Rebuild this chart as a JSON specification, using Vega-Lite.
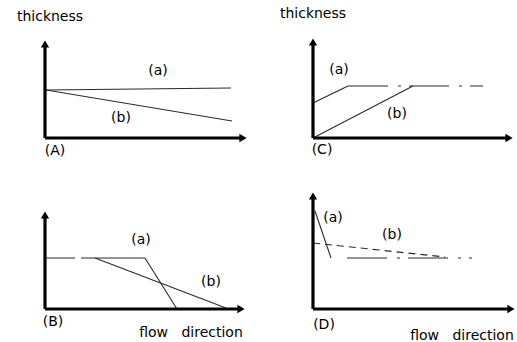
{
  "$schema": "https://vega.github.io/schema/vega-lite/v6.json",
  "padding": 0,
  "background": "white",
  "bounds": "flush",
  "columns": 2,
  "spacing": {"row": 0, "column": 19},
  "data": {
    "values": [
      {"kind": "axis", "panel": "A", "dir": "up", "x": 0, "y": 0, "x2": 0, "y2": 94},
      {"kind": "axis", "panel": "A", "dir": "right", "x": 0, "y": 0, "x2": 198, "y2": 0},
      {"kind": "axis", "panel": "C", "dir": "up", "x": 0, "y": 0, "x2": 0, "y2": 96},
      {"kind": "axis", "panel": "C", "dir": "right", "x": 0, "y": 0, "x2": 196, "y2": 0},
      {"kind": "axis", "panel": "B", "dir": "up", "x": 0, "y": 0, "x2": 0, "y2": 94},
      {"kind": "axis", "panel": "B", "dir": "right", "x": 0, "y": 0, "x2": 196, "y2": 0},
      {"kind": "axis", "panel": "D", "dir": "up", "x": 0, "y": 0, "x2": 0, "y2": 113},
      {"kind": "axis", "panel": "D", "dir": "right", "x": 0, "y": 0, "x2": 198, "y2": 0},

      {"kind": "curve", "panel": "A", "seg": "A-a", "x": 1, "y": 48},
      {"kind": "curve", "panel": "A", "seg": "A-a", "x": 186, "y": 50},
      {"kind": "curve", "panel": "A", "seg": "A-b", "x": 1, "y": 48},
      {"kind": "curve", "panel": "A", "seg": "A-b", "x": 187, "y": 17},

      {"kind": "curve", "panel": "C", "seg": "C-a1", "x": 0, "y": 35},
      {"kind": "curve", "panel": "C", "seg": "C-a1", "x": 35, "y": 52},
      {"kind": "curve", "panel": "C", "seg": "C-a2", "x": 35, "y": 52},
      {"kind": "curve", "panel": "C", "seg": "C-a2", "x": 170, "y": 52},
      {"kind": "curve", "panel": "C", "seg": "C-b", "x": 0, "y": 0},
      {"kind": "curve", "panel": "C", "seg": "C-b", "x": 100, "y": 52},

      {"kind": "curve", "panel": "B", "seg": "B-a1", "x": 0, "y": 51},
      {"kind": "curve", "panel": "B", "seg": "B-a1", "x": 100, "y": 51},
      {"kind": "curve", "panel": "B", "seg": "B-a2", "x": 100, "y": 51},
      {"kind": "curve", "panel": "B", "seg": "B-a2", "x": 132, "y": 0},
      {"kind": "curve", "panel": "B", "seg": "B-b", "x": 50, "y": 51},
      {"kind": "curve", "panel": "B", "seg": "B-b", "x": 181, "y": 1},

      {"kind": "curve", "panel": "D", "seg": "D-a1", "x": 2, "y": 98},
      {"kind": "curve", "panel": "D", "seg": "D-a1", "x": 18, "y": 51},
      {"kind": "curve", "panel": "D", "seg": "D-a2", "x": 34, "y": 51},
      {"kind": "curve", "panel": "D", "seg": "D-a2", "x": 159, "y": 51},
      {"kind": "curve", "panel": "D", "seg": "D-b", "x": 0, "y": 66},
      {"kind": "curve", "panel": "D", "seg": "D-b", "x": 132, "y": 52},

      {"kind": "label", "panel": "A", "text": "thickness", "x": 5, "y": 121},
      {"kind": "label", "panel": "A", "text": "(a)", "x": 113, "y": 67},
      {"kind": "label", "panel": "A", "text": "(b)", "x": 76, "y": 20},
      {"kind": "label", "panel": "A", "text": "(A)", "x": 10, "y": -13},

      {"kind": "label", "panel": "C", "text": "thickness", "x": 0, "y": 124},
      {"kind": "label", "panel": "C", "text": "(a)", "x": 26, "y": 68},
      {"kind": "label", "panel": "C", "text": "(b)", "x": 84, "y": 24},
      {"kind": "label", "panel": "C", "text": "(C)", "x": 9, "y": -12},

      {"kind": "label", "panel": "B", "text": "(a)", "x": 96, "y": 69},
      {"kind": "label", "panel": "B", "text": "(b)", "x": 166, "y": 27},
      {"kind": "label", "panel": "B", "text": "(B)", "x": 8, "y": -13},
      {"kind": "label", "panel": "B", "text": "flow\u00a0\u00a0\u00a0direction", "x": 146, "y": -24},

      {"kind": "label", "panel": "D", "text": "(a)", "x": 20, "y": 91},
      {"kind": "label", "panel": "D", "text": "(b)", "x": 79, "y": 74},
      {"kind": "label", "panel": "D", "text": "(D)", "x": 11, "y": -16},
      {"kind": "label", "panel": "D", "text": "flow\u00a0\u00a0\u00a0direction", "x": 149, "y": -27}
    ]
  },
  "concat": [
    {
      "transform": [{"filter": {"field": "panel", "equal": "A"}}],
      "width": 249, "height": 171,
      "encoding": {
        "x": {"field": "x", "type": "quantitative", "scale": {"domain": [-45, 204], "nice": false, "zero": false}, "axis": null},
        "y": {"field": "y", "type": "quantitative", "scale": {"domain": [-33, 138], "nice": false, "zero": false}, "axis": null}
      },
      "layer": [
        {"transform": [{"filter": "datum.kind === 'curve' && indexof(['C-a2','B-a1','D-a2','D-b'], datum.seg) < 0"}],
         "mark": {"type": "line", "color": "#2a2a2a", "strokeWidth": 1.1}, "encoding": {"detail": {"field": "seg"}}},
        {"transform": [{"filter": {"field": "seg", "oneOf": ["C-a2", "B-a1", "D-a2"]}}],
         "mark": {"type": "line", "color": "#2a2a2a", "strokeWidth": 1.1, "strokeDash": [40, 10, 3, 8]}, "encoding": {"detail": {"field": "seg"}}},
        {"transform": [{"filter": {"field": "seg", "equal": "D-b"}}],
         "mark": {"type": "line", "color": "#2a2a2a", "strokeWidth": 1.1, "strokeDash": [7, 5]}, "encoding": {"detail": {"field": "seg"}}},
        {"transform": [{"filter": "datum.kind === 'axis'"}],
         "mark": {"type": "rule", "color": "black", "strokeWidth": 3.2},
         "encoding": {"x2": {"field": "x2"}, "y2": {"field": "y2"}}},
        {"transform": [{"filter": "datum.kind === 'axis'"}],
         "mark": {"type": "point", "filled": true, "color": "black", "opacity": 1, "size": 70},
         "encoding": {"x": {"field": "x2", "type": "quantitative"}, "y": {"field": "y2", "type": "quantitative"},
           "shape": {"field": "dir", "type": "nominal", "scale": {"domain": ["up", "right"], "range": ["triangle-up", "triangle-right"]}, "legend": null}}},
        {"transform": [{"filter": "datum.kind === 'label'"}],
         "mark": {"type": "text", "font": "DejaVu Sans", "fontSize": 14, "color": "black", "align": "center", "baseline": "middle"},
         "encoding": {"text": {"field": "text"}}}
      ]
    },
    {
      "transform": [{"filter": {"field": "panel", "equal": "C"}}],
      "width": 249, "height": 171,
      "encoding": {
        "x": {"field": "x", "type": "quantitative", "scale": {"domain": [-45, 204], "nice": false, "zero": false}, "axis": null},
        "y": {"field": "y", "type": "quantitative", "scale": {"domain": [-33, 138], "nice": false, "zero": false}, "axis": null}
      },
      "layer": [
        {"transform": [{"filter": "datum.kind === 'curve' && indexof(['C-a2','B-a1','D-a2','D-b'], datum.seg) < 0"}],
         "mark": {"type": "line", "color": "#2a2a2a", "strokeWidth": 1.1}, "encoding": {"detail": {"field": "seg"}}},
        {"transform": [{"filter": {"field": "seg", "oneOf": ["C-a2", "B-a1", "D-a2"]}}],
         "mark": {"type": "line", "color": "#2a2a2a", "strokeWidth": 1.1, "strokeDash": [40, 10, 3, 8]}, "encoding": {"detail": {"field": "seg"}}},
        {"transform": [{"filter": {"field": "seg", "equal": "D-b"}}],
         "mark": {"type": "line", "color": "#2a2a2a", "strokeWidth": 1.1, "strokeDash": [7, 5]}, "encoding": {"detail": {"field": "seg"}}},
        {"transform": [{"filter": "datum.kind === 'axis'"}],
         "mark": {"type": "rule", "color": "black", "strokeWidth": 3.2},
         "encoding": {"x2": {"field": "x2"}, "y2": {"field": "y2"}}},
        {"transform": [{"filter": "datum.kind === 'axis'"}],
         "mark": {"type": "point", "filled": true, "color": "black", "opacity": 1, "size": 70},
         "encoding": {"x": {"field": "x2", "type": "quantitative"}, "y": {"field": "y2", "type": "quantitative"},
           "shape": {"field": "dir", "type": "nominal", "scale": {"domain": ["up", "right"], "range": ["triangle-up", "triangle-right"]}, "legend": null}}},
        {"transform": [{"filter": "datum.kind === 'label'"}],
         "mark": {"type": "text", "font": "DejaVu Sans", "fontSize": 14, "color": "black", "align": "center", "baseline": "middle"},
         "encoding": {"text": {"field": "text"}}}
      ]
    },
    {
      "transform": [{"filter": {"field": "panel", "equal": "B"}}],
      "width": 249, "height": 171,
      "encoding": {
        "x": {"field": "x", "type": "quantitative", "scale": {"domain": [-45, 204], "nice": false, "zero": false}, "axis": null},
        "y": {"field": "y", "type": "quantitative", "scale": {"domain": [-33, 138], "nice": false, "zero": false}, "axis": null}
      },
      "layer": [
        {"transform": [{"filter": "datum.kind === 'curve' && indexof(['C-a2','B-a1','D-a2','D-b'], datum.seg) < 0"}],
         "mark": {"type": "line", "color": "#2a2a2a", "strokeWidth": 1.1}, "encoding": {"detail": {"field": "seg"}}},
        {"transform": [{"filter": {"field": "seg", "oneOf": ["C-a2", "B-a1", "D-a2"]}}],
         "mark": {"type": "line", "color": "#2a2a2a", "strokeWidth": 1.1, "strokeDash": [30, 6, 70, 4]}, "encoding": {"detail": {"field": "seg"}}},
        {"transform": [{"filter": {"field": "seg", "equal": "D-b"}}],
         "mark": {"type": "line", "color": "#2a2a2a", "strokeWidth": 1.1, "strokeDash": [7, 5]}, "encoding": {"detail": {"field": "seg"}}},
        {"transform": [{"filter": "datum.kind === 'axis'"}],
         "mark": {"type": "rule", "color": "black", "strokeWidth": 3.2},
         "encoding": {"x2": {"field": "x2"}, "y2": {"field": "y2"}}},
        {"transform": [{"filter": "datum.kind === 'axis'"}],
         "mark": {"type": "point", "filled": true, "color": "black", "opacity": 1, "size": 70},
         "encoding": {"x": {"field": "x2", "type": "quantitative"}, "y": {"field": "y2", "type": "quantitative"},
           "shape": {"field": "dir", "type": "nominal", "scale": {"domain": ["up", "right"], "range": ["triangle-up", "triangle-right"]}, "legend": null}}},
        {"transform": [{"filter": "datum.kind === 'label'"}],
         "mark": {"type": "text", "font": "DejaVu Sans", "fontSize": 14, "color": "black", "align": "center", "baseline": "middle"},
         "encoding": {"text": {"field": "text"}}}
      ]
    },
    {
      "transform": [{"filter": {"field": "panel", "equal": "D"}}],
      "width": 249, "height": 171,
      "encoding": {
        "x": {"field": "x", "type": "quantitative", "scale": {"domain": [-45, 204], "nice": false, "zero": false}, "axis": null},
        "y": {"field": "y", "type": "quantitative", "scale": {"domain": [-33, 138], "nice": false, "zero": false}, "axis": null}
      },
      "layer": [
        {"transform": [{"filter": "datum.kind === 'curve' && indexof(['C-a2','B-a1','D-a2','D-b'], datum.seg) < 0"}],
         "mark": {"type": "line", "color": "#2a2a2a", "strokeWidth": 1.1}, "encoding": {"detail": {"field": "seg"}}},
        {"transform": [{"filter": {"field": "seg", "oneOf": ["C-a2", "B-a1", "D-a2"]}}],
         "mark": {"type": "line", "color": "#2a2a2a", "strokeWidth": 1.1, "strokeDash": [40, 10, 3, 8]}, "encoding": {"detail": {"field": "seg"}}},
        {"transform": [{"filter": {"field": "seg", "equal": "D-b"}}],
         "mark": {"type": "line", "color": "#2a2a2a", "strokeWidth": 1.1, "strokeDash": [7, 5]}, "encoding": {"detail": {"field": "seg"}}},
        {"transform": [{"filter": "datum.kind === 'axis'"}],
         "mark": {"type": "rule", "color": "black", "strokeWidth": 3.2},
         "encoding": {"x2": {"field": "x2"}, "y2": {"field": "y2"}}},
        {"transform": [{"filter": "datum.kind === 'axis'"}],
         "mark": {"type": "point", "filled": true, "color": "black", "opacity": 1, "size": 70},
         "encoding": {"x": {"field": "x2", "type": "quantitative"}, "y": {"field": "y2", "type": "quantitative"},
           "shape": {"field": "dir", "type": "nominal", "scale": {"domain": ["up", "right"], "range": ["triangle-up", "triangle-right"]}, "legend": null}}},
        {"transform": [{"filter": "datum.kind === 'label'"}],
         "mark": {"type": "text", "font": "DejaVu Sans", "fontSize": 14, "color": "black", "align": "center", "baseline": "middle"},
         "encoding": {"text": {"field": "text"}}}
      ]
    }
  ],
  "config": {"view": {"stroke": null}}
}
